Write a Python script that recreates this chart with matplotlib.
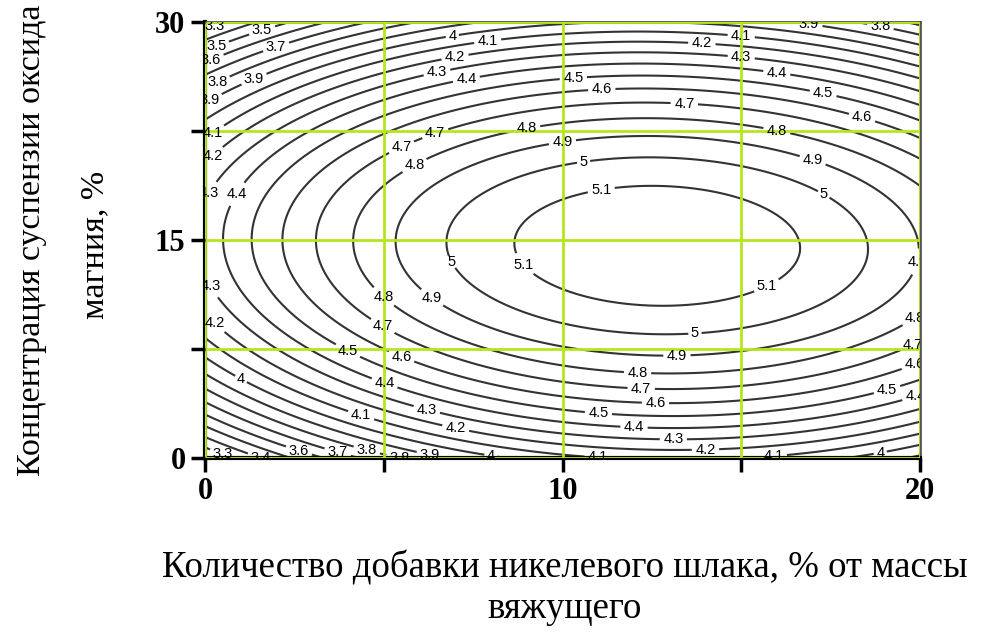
import numpy as np
import matplotlib
matplotlib.use('Agg')
import matplotlib.pyplot as plt

# Модель отклика: прочность в зависимости от добавки шлака (x) и концентрации суспензии (y)
peak_value = 5.185
peak_x = 12.65
peak_y = 14.6
coef_xx = 0.00533
coef_yy = 0.0050
coef_xy = -0.0004

x_limits = [0, 20]
y_limits = [0, 30]
x_ticks = [0, 5, 10, 15, 20]
x_tick_labels = ['0', '', '10', '', '20']
y_ticks = [0, 7.5, 15, 22.5, 30]
y_tick_labels = ['0', '', '15', '', '30']
levels = [3.0, 3.1, 3.2, 3.3, 3.4, 3.5, 3.6, 3.7, 3.8, 3.9, 4.0,
          4.1, 4.2, 4.3, 4.4, 4.5, 4.6, 4.7, 4.8, 4.9, 5.0, 5.1]

# места подписей изолиний
label_spots = [
    (0.3, 29.6), (1.6, 29.4), (0.3, 28.4), (2.0, 28.2), (0.2, 27.2),
    (0.3, 26.1), (1.4, 25.9), (0.2, 24.3), (0.2, 22.4), (0.2, 20.8),
    (0.2, 18.1), (1.0, 18.0), (0.2, 11.9), (0.3, 9.4), (1.0, 5.4),
    (0.5, 0.3), (1.6, 0.3), (2.6, 0.3), (3.7, 0.3), (4.5, 0.3),
    (5.5, 0.3), (6.3, 0.3), (8.0, 0.2), (11.0, 0.2), (14.0, 0.4),
    (15.9, 0.1), (18.9, 0.2),
    (5.4, 21.9), (6.5, 21.9), (5.8, 20.4), (9.0, 22.7), (10.0, 21.7),
    (10.6, 20.2), (11.1, 18.2), (7.3, 26.2), (6.5, 26.4), (7.0, 27.5),
    (7.9, 28.8), (6.9, 29.3), (10.3, 26.2), (11.1, 25.3), (13.4, 24.1),
    (16.0, 22.6), (17.0, 20.5), (17.3, 18.1), (13.9, 28.6), (15.0, 29.1),
    (15.0, 27.6), (16.0, 26.6), (17.3, 25.2), (18.4, 23.6), (16.9, 29.9),
    (18.9, 29.8),
    (7.0, 13.6), (9.0, 13.5), (5.0, 11.1), (6.4, 11.2), (5.0, 9.2),
    (5.5, 7.0), (4.0, 7.4), (5.0, 5.0), (6.2, 3.3), (7.0, 1.9), (4.4, 3.2),
    (15.7, 11.9), (13.7, 8.8), (13.2, 7.2), (12.1, 5.9), (12.2, 4.7),
    (12.6, 3.7), (11.0, 3.0), (12.0, 2.1), (13.1, 1.2), (19.1, 4.5),
    (19.9, 13.5), (19.9, 9.4), (19.9, 7.3), (19.9, 6.1), (19.9, 4.0),
]

xs = np.linspace(x_limits[0], x_limits[1], 401)
ys = np.linspace(y_limits[0], y_limits[1], 601)
X, Y = np.meshgrid(xs, ys)
dx = X - peak_x
dy = Y - peak_y
Z = peak_value - coef_xx * dx ** 2 - coef_yy * dy ** 2 + coef_xy * dx * dy

fig = plt.figure(figsize=(9.84, 6.32), dpi=100)
ax = fig.add_axes([205 / 984, 1 - 458 / 632, 715 / 984, 436 / 632])

cs = ax.contour(X, Y, Z, levels=levels, colors='#333333', linewidths=1.5, zorder=1)
labels = ax.clabel(cs, inline=True, inline_spacing=2, fmt='%g', fontsize=10.5,
                   manual=label_spots, zorder=3)
for t in labels:
    t.set_rotation(0)
    t.set_family('Liberation Sans')
    t.set_color('black')

ax.set_xlim(x_limits)
ax.set_ylim(y_limits)
ax.set_xticks(x_ticks)
ax.set_xticklabels(x_tick_labels)
ax.set_yticks(y_ticks)
ax.set_yticklabels(y_tick_labels)
ax.grid(True, color='#b5e61d', linewidth=2, zorder=2)
ax.set_axisbelow(False)

ax.tick_params(direction='out', length=10, width=2.5, pad=4)
for lab in ax.get_xticklabels() + ax.get_yticklabels():
    lab.set_family('Liberation Serif')
    lab.set_fontweight('bold')
    lab.set_fontsize(22)

ax.spines['left'].set_linewidth(3)
ax.spines['bottom'].set_linewidth(3)
ax.spines['top'].set_linewidth(2)
ax.spines['right'].set_linewidth(2)
ax.spines['top'].set_color('#555555')
ax.spines['right'].set_color('#555555')

serif = 'Liberation Serif'
fig.text(565 / 984, 1 - 568 / 632, 'Количество добавки никелевого шлака, % от массы',
         family=serif, fontsize=26.5, ha='center', va='center')
fig.text(565 / 984, 1 - 609 / 632, 'вяжущего',
         family=serif, fontsize=26.5, ha='center', va='center')
fig.text(32 / 984, 1 - 240 / 632, 'Концентрация суспензии оксида',
         family=serif, fontsize=24.5, ha='center', va='center', rotation=90)
fig.text(95 / 984, 1 - 245 / 632, 'магния, %',
         family=serif, fontsize=24.5, ha='center', va='center', rotation=90)

fig.savefig('out.png', dpi=100)
